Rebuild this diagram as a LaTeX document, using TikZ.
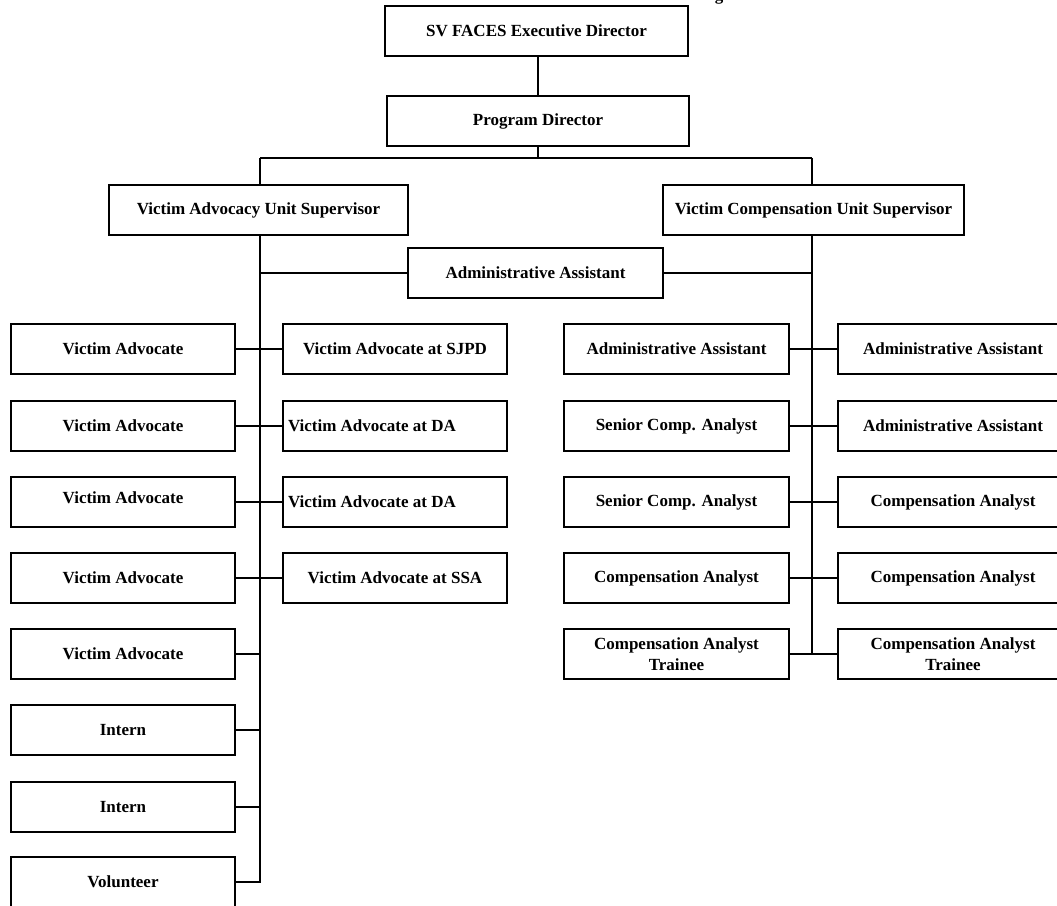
\documentclass[tikz,border=0pt]{standalone}
\usepackage{fontspec}
\setmainfont{Liberation Serif}
\begin{document}
\begin{tikzpicture}[x=1pt,y=-1pt,
  box/.style={draw=black, line width=1.4pt, fill=white, minimum height=50pt, inner sep=2pt, align=center,
    font=\fontsize{17}{19}\selectfont\bfseries},
  wire/.style={draw=black, line width=1.4pt},
  frag/.style={font=\fontsize{17}{19}\selectfont\bfseries, inner sep=0pt, anchor=base}]
\useasboundingbox (0,0) rectangle (1057,905);
% bottom of a cut-off title letter
\node[frag] (titlefrag) at (719,0.5) {g};
% top levels
\node[box, minimum width=303pt] (exec) at (536.5,31) {SV FACES Executive Director};
\node[box, minimum width=302pt] (prog) at (538,121) {Program Director};
\node[box, minimum width=299pt] (vau) at (258.5,210) {Victim Advocacy Unit Supervisor};
\node[box, minimum width=301pt] (vcu) at (813.5,210) {Victim Compensation Unit Supervisor};
\node[box, minimum width=255pt] (adm) at (535.5,273) {Administrative Assistant};
% left column
\node[box, minimum width=224pt] (l1) at (123,349) {Victim Advocate};
\node[box, minimum width=224pt] (l2) at (123,426) {Victim Advocate};
\node[box, minimum width=224pt] (l3) at (123,502) {\raisebox{9pt}{Victim Advocate}};
\node[box, minimum width=224pt] (l4) at (123,578) {Victim Advocate};
\node[box, minimum width=224pt] (l5) at (123,654) {Victim Advocate};
\node[box, minimum width=224pt] (l6) at (123,730) {Intern};
\node[box, minimum width=224pt] (l7) at (123,807) {Intern};
\node[box, minimum width=224pt] (l8) at (123,882) {Volunteer};
% middle-left column
\node[box, minimum width=224pt] (m1) at (395,349) {Victim Advocate at SJPD};
\node[box, minimum width=224pt] (m2) at (395,426) {\makebox[214pt][l]{Victim Advocate at DA}};
\node[box, minimum width=224pt] (m3) at (395,502) {\makebox[214pt][l]{Victim Advocate at DA}};
\node[box, minimum width=224pt] (m4) at (395,578) {Victim Advocate at SSA};
% middle-right column
\node[box, minimum width=225pt] (r1) at (676.5,349) {Administrative Assistant};
\node[box, minimum width=225pt] (r2) at (676.5,426) {\raisebox{3pt}{Senior Comp. Analyst}};
\node[box, minimum width=225pt] (r3) at (676.5,502) {Senior Comp. Analyst};
\node[box, minimum width=225pt] (r4) at (676.5,578) {Compensation Analyst};
\node[box, minimum width=225pt] (r5) at (676.5,654) {Compensation Analyst\\[1.5pt]Trainee};
% far-right column (cut off at the right edge)
\node[box, minimum width=230pt] (f1) at (953,349) {Administrative Assistant};
\node[box, minimum width=230pt] (f2) at (953,426) {Administrative Assistant};
\node[box, minimum width=230pt] (f3) at (953,502) {Compensation Analyst};
\node[box, minimum width=230pt] (f4) at (953,578) {Compensation Analyst};
\node[box, minimum width=230pt] (f5) at (953,654) {Compensation Analyst\\[1.5pt]Trainee};
% junction coordinates
\coordinate (busL) at (260,158);
\coordinate (busR) at (812,158);
\coordinate (busM) at (538,158);
\coordinate (tL) at (260,235);
\coordinate (tLend) at (260,883);
\coordinate (tR) at (812,234);
\coordinate (tRend) at (812,654);
% connectors
\draw[wire] (prog.north) -- (prog.north |- exec.south);
\draw[wire] (prog.south) -- (busM);
\draw[wire] (busL) -- (busR);
\draw[wire] (busL) -- (busL |- vau.north);
\draw[wire] (busR) -- (busR |- vcu.north);
\draw[wire] (tL) -- (tLend);
\draw[wire] (tR) -- (tRend);
\draw[wire] (adm.west -| tL) -- (adm.west);
\draw[wire] (adm.east) -- (adm.east -| tR);
\draw[wire] (l1.east) -- (m1.west);
\draw[wire] (l2.east) -- (m2.west);
\draw[wire] (l3.east) -- (m3.west);
\draw[wire] (l4.east) -- (m4.west);
\draw[wire] (l5.east) -- (l5.east -| tL);
\draw[wire] (l6.east) -- (l6.east -| tL);
\draw[wire] (l7.east) -- (l7.east -| tL);
\draw[wire] (l8.east) -- (l8.east -| tL);
\draw[wire] (r1.east) -- (f1.west);
\draw[wire] (r2.east) -- (f2.west);
\draw[wire] (r3.east) -- (f3.west);
\draw[wire] (r4.east) -- (f4.west);
\draw[wire] (r5.east) -- (f5.west);
\end{tikzpicture}
\end{document}
